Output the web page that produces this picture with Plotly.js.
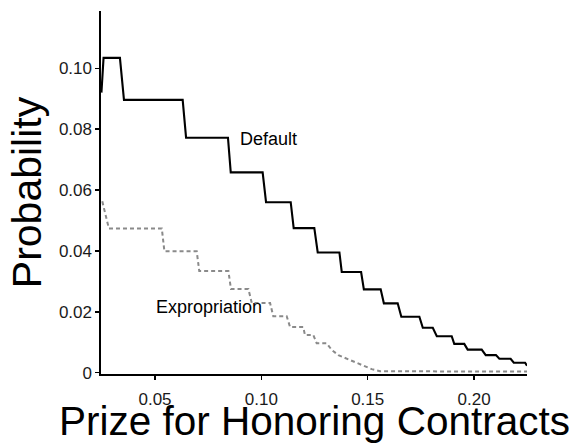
<!DOCTYPE html>
<html>
<head>
<meta charset="utf-8">
<script src="https://cdn.plot.ly/plotly-3.0.1.min.js"></script>
<style>html,body{margin:0;padding:0;background:#fff;}#chart{width:582px;height:444px;}</style>
</head>
<body>
<div id="chart"></div>
<script>
// Default probability (step line)
const defaultX = [0.0248, 0.0258, 0.0335, 0.0354, 0.0630, 0.0646, 0.0843, 0.0856, 0.1006, 0.1022, 0.1138, 0.1152, 0.1249, 0.1265, 0.1367, 0.1378, 0.1469, 0.1482, 0.1561, 0.1576, 0.1641, 0.1658, 0.1743, 0.1759, 0.1806, 0.1825, 0.1895, 0.1907, 0.1954, 0.1970, 0.2036, 0.2055, 0.2103, 0.2119, 0.2172, 0.2187, 0.2240, 0.2249];
const defaultY = [0.0920, 0.1034, 0.1034, 0.0896, 0.0896, 0.0772, 0.0772, 0.0658, 0.0658, 0.0560, 0.0560, 0.0475, 0.0475, 0.0395, 0.0395, 0.0331, 0.0331, 0.0274, 0.0274, 0.0228, 0.0228, 0.0184, 0.0184, 0.0148, 0.0148, 0.0120, 0.0120, 0.0095, 0.0095, 0.0076, 0.0076, 0.0058, 0.0058, 0.0046, 0.0046, 0.0033, 0.0033, 0.0023];

// Expropriation probability (dashed step line)
const exproX = [0.0252, 0.0283, 0.0532, 0.0544, 0.0696, 0.0708, 0.0845, 0.0857, 0.0939, 0.0955, 0.1041, 0.1056, 0.1119, 0.1135, 0.1197, 0.1205, 0.1244, 0.1260, 0.1307, 0.1331, 0.1362, 0.1401, 0.1440, 0.1479, 0.1519, 0.1558, 0.2249];
const exproY = [0.0563, 0.0474, 0.0474, 0.0399, 0.0399, 0.0334, 0.0334, 0.0275, 0.0275, 0.0229, 0.0229, 0.0186, 0.0186, 0.0150, 0.0150, 0.0124, 0.0124, 0.0097, 0.0097, 0.0075, 0.0058, 0.0047, 0.0036, 0.0025, 0.0012, 0.0005, 0.0004];

const xTicks = [0.05, 0.10, 0.15, 0.20];
const xTickText = ["0.05", "0.10", "0.15", "0.20"];
const yTicks = [0, 0.02, 0.04, 0.06, 0.08, 0.10];
const yTickText = ["0", "0.02", "0.04", "0.06", "0.08", "0.10"];

const labels = ["Default", "Expropriation"];
const labelX = [0.1033, 0.0754];
const labelY = [0.0768, 0.0215];

const xTitle = "Prize for Honoring Contracts";
const yTitle = "Probability";

const FONT = "Liberation Sans, Arial, Helvetica, sans-serif";

const traces = [
  {x: defaultX, y: defaultY, type: "scatter", mode: "lines", name: labels[0],
   line: {color: "#000000", width: 2.1}, hoverinfo: "skip"},
  {x: exproX, y: exproY, type: "scatter", mode: "lines", name: labels[1],
   line: {color: "#8a8a8a", width: 2, dash: "4px,3px"}, hoverinfo: "skip"}
];

const annotations = labels.map((t, i) => ({
  x: labelX[i], y: labelY[i], xref: "x", yref: "y", text: t, showarrow: false,
  font: {family: FONT, size: 18, color: "#000000"}, xanchor: "center", yanchor: "middle"
}));
annotations.push({
  x: 0.5, y: -0.129, xref: "paper", yref: "paper", text: xTitle, showarrow: false,
  font: {family: FONT, size: 40.5, color: "#000000"}, xanchor: "center", yanchor: "middle"
});

const layout = {
  width: 582, height: 444,
  margin: {l: 101, r: 55, t: 11, b: 70, pad: 0},
  paper_bgcolor: "#ffffff", plot_bgcolor: "#ffffff",
  showlegend: false,
  font: {family: FONT, color: "#000000"},
  xaxis: {
    range: [0.0246, 0.2249], showgrid: false, zeroline: false,
    showline: true, linecolor: "#000000", linewidth: 1.6,
    ticks: "outside", ticklen: 4, tickwidth: 1.4, tickcolor: "#000000",
    tickvals: xTicks, ticktext: xTickText, ticklabelstandoff: 5,
    tickfont: {family: FONT, size: 17, color: "#1a1a1a"},
    automargin: false
  },
  yaxis: {
    range: [-0.0004, 0.1188], showgrid: false, zeroline: false,
    showline: true, linecolor: "#000000", linewidth: 1.6,
    ticks: "outside", ticklen: 4, tickwidth: 1.4, tickcolor: "#000000",
    tickvals: yTicks, ticktext: yTickText,
    tickfont: {family: FONT, size: 17, color: "#1a1a1a"},
    title: {text: yTitle, font: {family: FONT, size: 41, color: "#000000"}, standoff: 4},
    automargin: false
  },
  annotations: annotations
};

Plotly.newPlot("chart", traces, layout, {displayModeBar: false, staticPlot: true});
</script>
</body>
</html>
